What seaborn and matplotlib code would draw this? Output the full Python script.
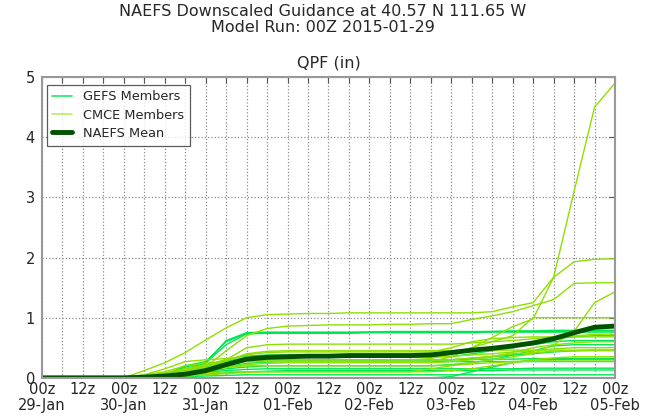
import matplotlib
matplotlib.use('Agg')
import matplotlib.pyplot as plt
import seaborn as sns
import pandas as pd
import numpy as np
from matplotlib.lines import Line2D

# forecast hours from 00Z 2015-01-29, every 6h
hours = [0, 6, 12, 18, 24, 30, 36, 42, 48, 54, 60, 66, 72, 78, 84, 90, 96,
         102, 108, 114, 120, 126, 132, 138, 144, 150, 156, 162, 168]

day_labels = ['29-Jan', '30-Jan', '31-Jan', '01-Feb', '02-Feb', '03-Feb', '04-Feb', '05-Feb']

# GEFS members (cumulative QPF, in)
gefs_members = [
    [0, 0, 0, 0, 0, 0.02, 0.05, 0.20, 0.27, 0.60, 0.74, 0.75, 0.75, 0.75, 0.75, 0.75, 0.76, 0.76, 0.76, 0.76, 0.76, 0.76, 0.77, 0.77, 0.77, 0.77, 0.78, 0.78, 0.78],
    [0, 0, 0, 0, 0, 0.02, 0.05, 0.18, 0.25, 0.55, 0.73, 0.74, 0.74, 0.74, 0.74, 0.74, 0.75, 0.75, 0.75, 0.75, 0.75, 0.75, 0.76, 0.76, 0.76, 0.76, 0.76, 0.76, 0.76],
    [0, 0, 0, 0, 0, 0.01, 0.04, 0.15, 0.24, 0.62, 0.75, 0.76, 0.76, 0.76, 0.76, 0.76, 0.76, 0.77, 0.77, 0.77, 0.77, 0.77, 0.77, 0.78, 0.78, 0.79, 0.79, 0.79, 0.79],
    [0, 0, 0, 0, 0, 0.01, 0.02, 0.04, 0.06, 0.08, 0.10, 0.11, 0.12, 0.12, 0.12, 0.12, 0.12, 0.12, 0.12, 0.12, 0.12, 0.12, 0.12, 0.13, 0.13, 0.13, 0.13, 0.13, 0.13],
    [0, 0, 0, 0, 0, 0, 0, 0, 0, 0, 0, 0, 0, 0, 0, 0, 0, 0, 0, 0, 0.02, 0.10, 0.18, 0.25, 0.30, 0.30, 0.31, 0.31, 0.31],
    [0, 0, 0, 0, 0, 0.01, 0.02, 0.05, 0.08, 0.20, 0.28, 0.30, 0.30, 0.30, 0.30, 0.30, 0.30, 0.30, 0.30, 0.30, 0.30, 0.31, 0.31, 0.31, 0.32, 0.32, 0.32, 0.32, 0.32],
    [0, 0, 0, 0, 0, 0.01, 0.03, 0.06, 0.10, 0.18, 0.24, 0.26, 0.27, 0.27, 0.27, 0.27, 0.27, 0.27, 0.27, 0.27, 0.27, 0.27, 0.27, 0.27, 0.27, 0.27, 0.27, 0.27, 0.27],
    [0, 0, 0, 0, 0, 0, 0.01, 0.02, 0.03, 0.04, 0.05, 0.05, 0.05, 0.05, 0.05, 0.05, 0.05, 0.05, 0.05, 0.05, 0.05, 0.05, 0.05, 0.05, 0.05, 0.05, 0.05, 0.05, 0.05],
    [0, 0, 0, 0, 0, 0.01, 0.04, 0.08, 0.15, 0.25, 0.29, 0.30, 0.30, 0.30, 0.30, 0.30, 0.30, 0.30, 0.30, 0.30, 0.30, 0.32, 0.35, 0.38, 0.40, 0.43, 0.45, 0.46, 0.46],
    [0, 0, 0, 0, 0, 0.02, 0.06, 0.12, 0.20, 0.30, 0.36, 0.38, 0.38, 0.38, 0.38, 0.38, 0.38, 0.38, 0.38, 0.38, 0.42, 0.45, 0.48, 0.52, 0.55, 0.60, 0.62, 0.62, 0.62],
    [0, 0, 0, 0, 0, 0.01, 0.05, 0.10, 0.18, 0.28, 0.33, 0.35, 0.35, 0.35, 0.35, 0.35, 0.35, 0.35, 0.35, 0.35, 0.35, 0.40, 0.45, 0.50, 0.60, 0.65, 0.68, 0.70, 0.70],
    [0, 0, 0, 0, 0, 0.01, 0.02, 0.06, 0.10, 0.15, 0.18, 0.20, 0.20, 0.20, 0.20, 0.20, 0.20, 0.20, 0.20, 0.20, 0.22, 0.25, 0.30, 0.38, 0.45, 0.53, 0.55, 0.55, 0.55],
    [0, 0, 0, 0, 0, 0.01, 0.03, 0.06, 0.09, 0.12, 0.14, 0.15, 0.15, 0.15, 0.15, 0.15, 0.15, 0.15, 0.15, 0.15, 0.15, 0.15, 0.15, 0.15, 0.16, 0.16, 0.16, 0.16, 0.16],
]

# CMCE members (cumulative QPF, in)
cmce_members = [
    [0, 0, 0, 0, 0, 0.12, 0.25, 0.42, 0.63, 0.83, 1.00, 1.05, 1.06, 1.07, 1.07, 1.08, 1.08, 1.08, 1.08, 1.08, 1.08, 1.08, 1.10, 1.18, 1.25, 1.67, 1.93, 1.97, 1.98],
    [0, 0, 0, 0, 0, 0.02, 0.05, 0.10, 0.18, 0.45, 0.70, 0.82, 0.86, 0.87, 0.88, 0.88, 0.88, 0.89, 0.89, 0.90, 0.90, 0.97, 1.03, 1.10, 1.20, 1.30, 1.57, 1.58, 1.58],
    [0, 0, 0, 0, 0, 0.03, 0.08, 0.15, 0.20, 0.25, 0.30, 0.30, 0.30, 0.30, 0.30, 0.30, 0.30, 0.30, 0.30, 0.32, 0.40, 0.50, 0.67, 0.85, 0.98, 1.67, 3.10, 4.50, 4.90],
    [0, 0, 0, 0, 0, 0.05, 0.10, 0.20, 0.25, 0.26, 0.27, 0.27, 0.27, 0.27, 0.27, 0.27, 0.27, 0.27, 0.27, 0.27, 0.35, 0.50, 0.60, 0.70, 1.00, 1.00, 1.00, 1.00, 1.00],
    [0, 0, 0, 0, 0, 0.01, 0.03, 0.05, 0.08, 0.10, 0.10, 0.10, 0.10, 0.10, 0.10, 0.10, 0.10, 0.10, 0.10, 0.15, 0.20, 0.25, 0.30, 0.35, 0.40, 0.55, 0.77, 1.25, 1.43],
    [0, 0, 0, 0, 0, 0.03, 0.08, 0.15, 0.22, 0.30, 0.50, 0.55, 0.56, 0.56, 0.56, 0.56, 0.56, 0.56, 0.56, 0.56, 0.56, 0.58, 0.60, 0.62, 0.65, 0.68, 0.70, 0.72, 0.72],
    [0, 0, 0, 0, 0, 0.02, 0.06, 0.12, 0.20, 0.30, 0.38, 0.42, 0.43, 0.43, 0.43, 0.43, 0.43, 0.43, 0.43, 0.43, 0.50, 0.60, 0.65, 0.67, 0.68, 0.68, 0.68, 0.68, 0.68],
    [0, 0, 0, 0, 0, 0.02, 0.05, 0.10, 0.15, 0.22, 0.28, 0.30, 0.30, 0.30, 0.30, 0.30, 0.30, 0.30, 0.30, 0.30, 0.30, 0.33, 0.36, 0.40, 0.42, 0.44, 0.45, 0.45, 0.45],
    [0, 0, 0, 0, 0, 0.01, 0.04, 0.08, 0.12, 0.18, 0.22, 0.24, 0.25, 0.25, 0.25, 0.25, 0.25, 0.25, 0.25, 0.25, 0.27, 0.30, 0.35, 0.42, 0.50, 0.55, 0.58, 0.60, 0.60],
    [0, 0, 0, 0, 0, 0, 0.01, 0.03, 0.05, 0.07, 0.09, 0.10, 0.10, 0.10, 0.10, 0.10, 0.10, 0.10, 0.10, 0.10, 0.12, 0.15, 0.20, 0.25, 0.30, 0.33, 0.35, 0.35, 0.35],
    [0, 0, 0, 0, 0, 0.01, 0.03, 0.07, 0.12, 0.17, 0.20, 0.20, 0.20, 0.20, 0.20, 0.20, 0.20, 0.20, 0.20, 0.20, 0.21, 0.23, 0.25, 0.27, 0.28, 0.28, 0.28, 0.28, 0.28],
    [0, 0, 0, 0, 0, 0.05, 0.15, 0.27, 0.30, 0.32, 0.34, 0.35, 0.35, 0.35, 0.35, 0.35, 0.35, 0.35, 0.35, 0.35, 0.36, 0.38, 0.40, 0.43, 0.45, 0.48, 0.50, 0.50, 0.50],
    [0, 0, 0, 0, 0, 0.02, 0.04, 0.09, 0.14, 0.28, 0.40, 0.44, 0.45, 0.45, 0.45, 0.45, 0.45, 0.45, 0.45, 0.45, 0.45, 0.45, 0.46, 0.46, 0.46, 0.46, 0.46, 0.46, 0.46],
]

naefs_mean = [0, 0, 0, 0, 0, 0.01, 0.03, 0.06, 0.12, 0.22, 0.31, 0.34, 0.35, 0.36, 0.36, 0.37, 0.37,
              0.37, 0.37, 0.38, 0.42, 0.46, 0.49, 0.53, 0.58, 0.65, 0.75, 0.84, 0.86]

GEFS_COLOR = '#00e650'
CMCE_COLOR = '#8ee000'
MEAN_COLOR = '#005200'

# long table for seaborn
rows = []
for i, vals in enumerate(gefs_members):
    for h, v in zip(hours, vals):
        rows.append(('GEFS', f'g{i}', h, v))
for i, vals in enumerate(cmce_members):
    for h, v in zip(hours, vals):
        rows.append(('CMCE', f'c{i}', h, v))
df = pd.DataFrame(rows, columns=['model', 'member', 'hour', 'qpf'])
df_mean = pd.DataFrame({'hour': hours, 'qpf': naefs_mean})

sns.set_style('white')
plt.rcParams['font.family'] = ['DejaVu Sans']

fig = plt.figure(figsize=(6.46, 4.17), dpi=100)
ax = fig.add_axes([0.065, 0.094, 0.887, 0.721])

sns.lineplot(data=df, x='hour', y='qpf', hue='model', units='member', estimator=None,
             palette={'GEFS': GEFS_COLOR, 'CMCE': CMCE_COLOR}, linewidth=1.0,
             legend=False, ax=ax)
sns.lineplot(data=df_mean, x='hour', y='qpf', color=MEAN_COLOR, linewidth=3.5, ax=ax)

ax.set_xlim(0, 168)
ax.set_ylim(0, 5)
ax.set_xlabel('')
ax.set_ylabel('')

xt_labels = []
for h in hours:
    if h % 24 == 0:
        xt_labels.append('00z\n' + day_labels[h // 24])
    elif h % 12 == 0:
        xt_labels.append('12z')
    else:
        xt_labels.append('')
ax.set_xticks(hours)
ax.set_xticklabels(xt_labels, fontsize=10.5, linespacing=1.05)
ax.set_yticks([0, 1, 2, 3, 4, 5])
ax.set_yticklabels(['0', '1', '2', '3', '4', '5'], fontsize=10.5)
ax.tick_params(direction='in', length=4, width=0.8, color='#555555', top=True, right=True, pad=3)
ax.tick_params(axis='y', pad=5)

ax.grid(True, linestyle=':', color='#8c8c8c', linewidth=0.9)
for sp in ax.spines.values():
    sp.set_color('#999999')
    sp.set_linewidth(1.5)

handles = [Line2D([0], [0], color=GEFS_COLOR, lw=1.3, alpha=0.8),
           Line2D([0], [0], color=CMCE_COLOR, lw=1.3, alpha=0.55),
           Line2D([0], [0], color=MEAN_COLOR, lw=3.5)]
leg = ax.legend(handles, ['GEFS Members', 'CMCE Members', 'NAEFS Mean'], loc='upper left',
                fontsize=9.3, frameon=True, fancybox=False, borderpad=0.45,
                handlelength=1.5, handletextpad=0.9, bbox_to_anchor=(0.008, 0.975),
                labelspacing=0.4, borderaxespad=0)
leg.get_frame().set_edgecolor('#333333')
leg.get_frame().set_linewidth(0.9)

ax.set_title('QPF (in)', fontsize=11.5, pad=7)
fig.suptitle('NAEFS Downscaled Guidance at 40.57 N 111.65 W\nModel Run: 00Z 2015-01-29',
             fontsize=11.5, y=0.99, linespacing=1.05)

fig.savefig('out.png', dpi=100)
